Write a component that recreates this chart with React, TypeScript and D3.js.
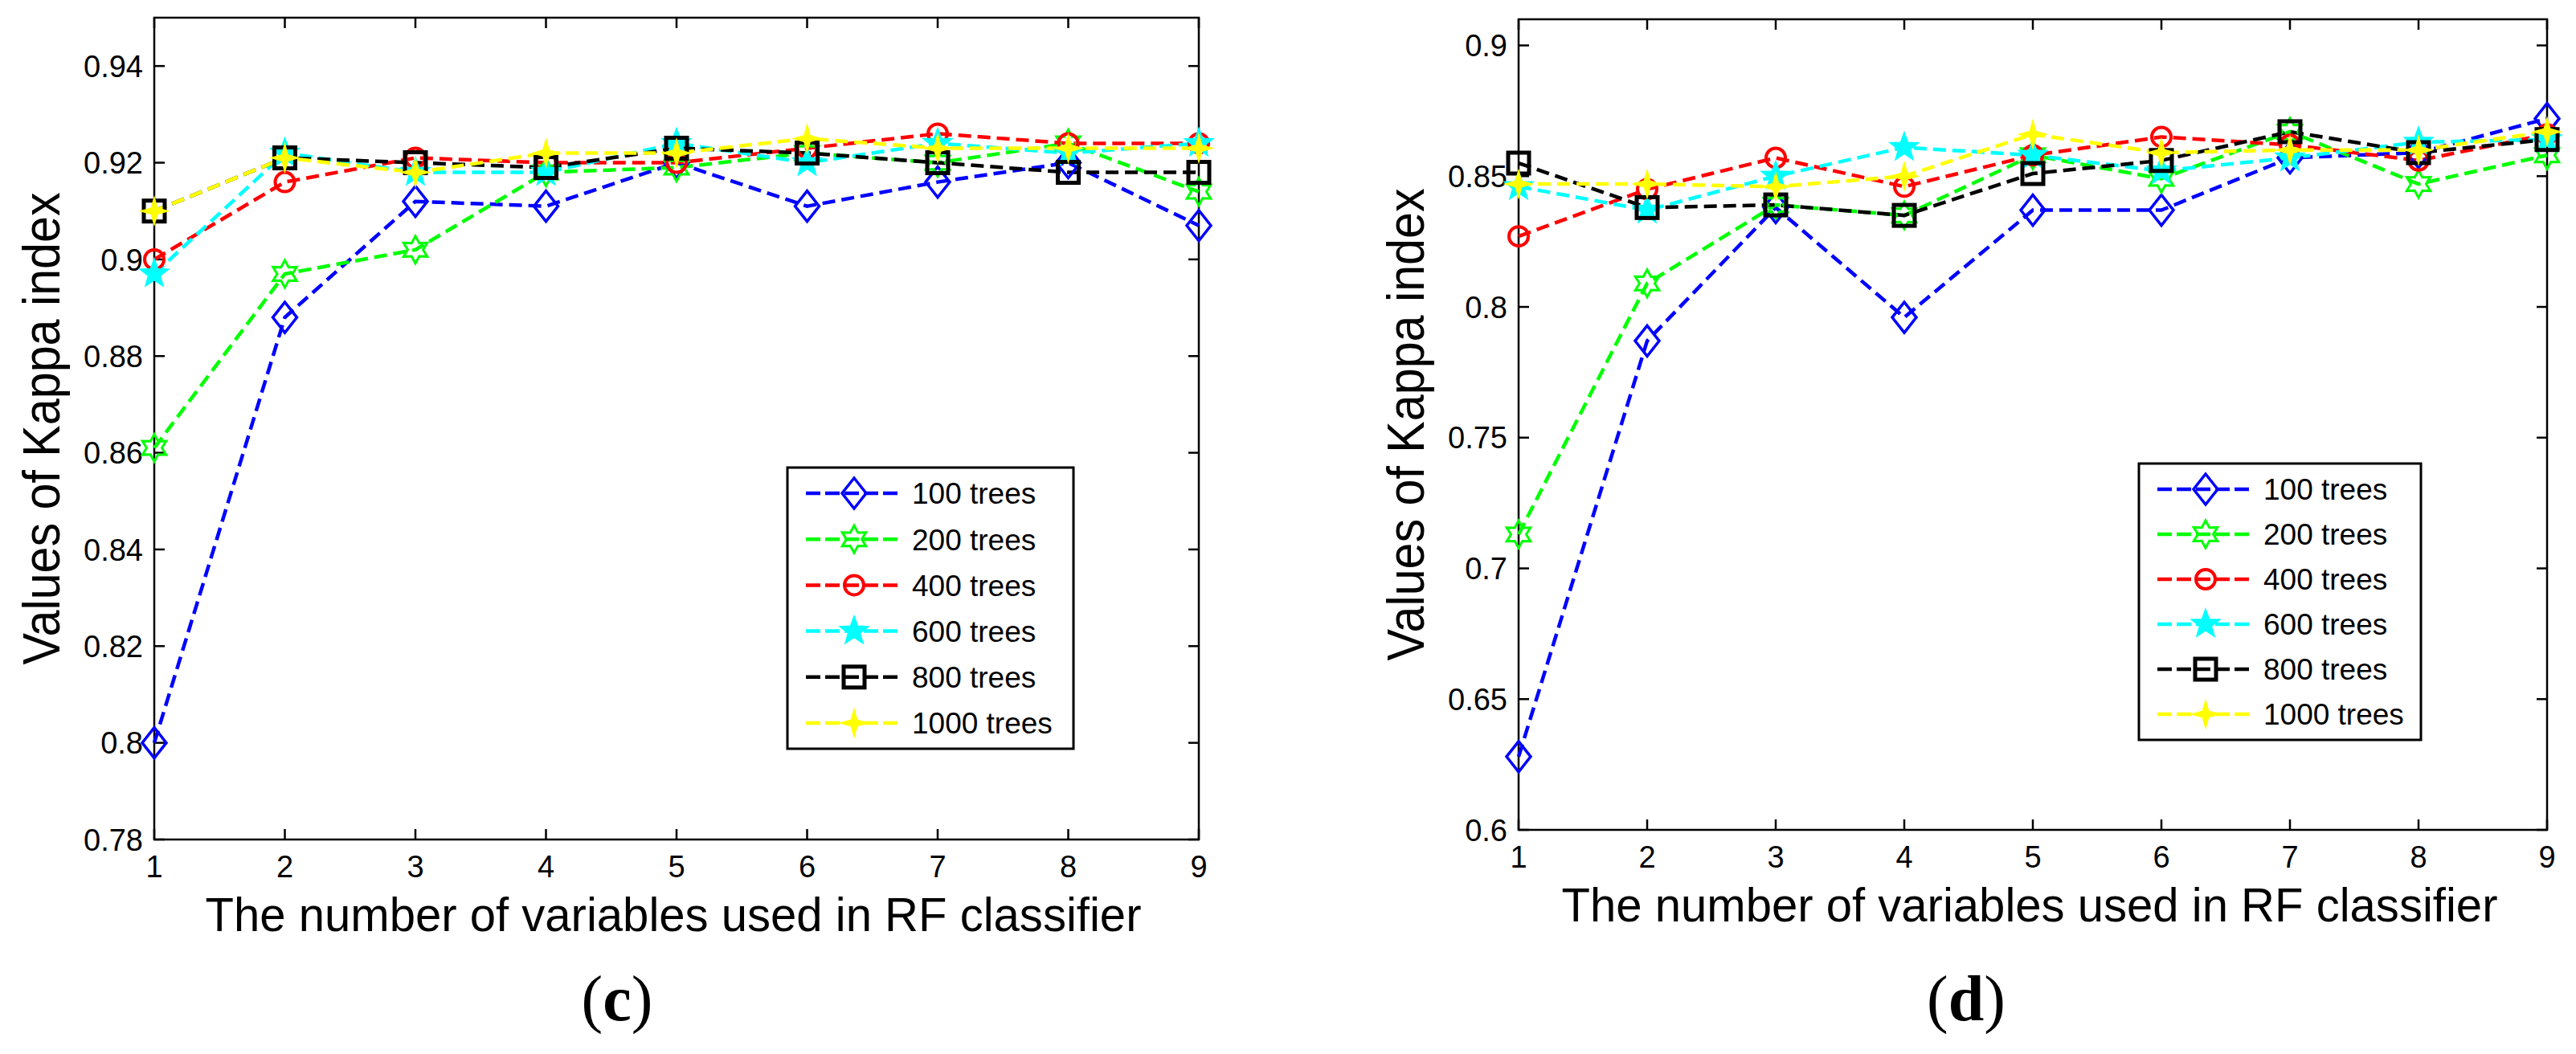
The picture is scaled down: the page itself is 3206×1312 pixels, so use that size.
import React from 'react';
import * as d3 from 'd3';

// number of variables used in the RF classifier (x axis)
const variableCounts = [1, 2, 3, 4, 5, 6, 7, 8, 9];

const treeLabels = ['100 trees', '200 trees', '400 trees', '600 trees', '800 trees', '1000 trees'];
const lineColors = ['#0000ff', '#00ff00', '#ff0000', '#00ffff', '#000000', '#ffff00'];
const markerKinds = ['diamond', 'hexagram', 'circle', 'pentagram', 'square', 'star4'];

// panel (c) kappa values
const kappaC100 = [0.8, 0.888, 0.912, 0.911, 0.92, 0.911, 0.916, 0.92, 0.907];
const kappaC200 = [0.861, 0.897, 0.902, 0.918, 0.919, 0.922, 0.92, 0.924, 0.914];
const kappaC400 = [0.9, 0.916, 0.921, 0.92, 0.92, 0.923, 0.926, 0.924, 0.924];
const kappaC600 = [0.897, 0.922, 0.918, 0.918, 0.924, 0.92, 0.924, 0.922, 0.924];
const kappaC800 = [0.91, 0.921, 0.92, 0.919, 0.923, 0.922, 0.92, 0.918, 0.918];
const kappaC1000 = [0.91, 0.921, 0.918, 0.922, 0.922, 0.925, 0.923, 0.923, 0.923];

// panel (d) kappa values
const kappaD100 = [0.628, 0.787, 0.838, 0.796, 0.837, 0.837, 0.857, 0.859, 0.872];
const kappaD200 = [0.713, 0.809, 0.839, 0.835, 0.858, 0.849, 0.867, 0.847, 0.858];
const kappaD400 = [0.827, 0.845, 0.857, 0.846, 0.858, 0.865, 0.862, 0.856, 0.866];
const kappaD600 = [0.846, 0.837, 0.85, 0.861, 0.858, 0.852, 0.857, 0.863, 0.864];
const kappaD800 = [0.855, 0.838, 0.839, 0.835, 0.851, 0.856, 0.867, 0.859, 0.864];
const kappaD1000 = [0.847, 0.847, 0.846, 0.85, 0.866, 0.859, 0.86, 0.86, 0.867];

const yTicksC = [0.78, 0.8, 0.82, 0.84, 0.86, 0.88, 0.9, 0.92, 0.94];
const yTicksD = [0.6, 0.65, 0.7, 0.75, 0.8, 0.85, 0.9];

const SANS = 'Liberation Sans, Arial, Helvetica, sans-serif';
const SERIF = 'Liberation Serif, Times New Roman, serif';

// marker shapes centred on 0,0
function starPath(points: number, outer: number, inner: number, start = -Math.PI / 2) {
  const pts: [number, number][] = [];
  for (let i = 0; i < points * 2; i++) {
    const r = i % 2 === 0 ? outer : inner;
    const a = start + (i * Math.PI) / points;
    pts.push([r * Math.cos(a), r * Math.sin(a)]);
  }
  return 'M' + pts.map(p => p[0].toFixed(2) + ',' + p[1].toFixed(2)).join('L') + 'Z';
}

const Marker = ({ kind, color, x, y }: { kind: string; color: string; x: number; y: number }) => {
  const t = `translate(${x},${y})`;
  if (kind === 'diamond')
    return <path transform={t} d="M0,-19L15,0L0,19L-15,0Z" fill="none" stroke={color} strokeWidth={3.5} />;
  if (kind === 'hexagram')
    return <path transform={t} d={starPath(6, 17, 9.5)} fill="none" stroke={color} strokeWidth={3} />;
  if (kind === 'circle')
    return <circle transform={t} r={12} fill="none" stroke={color} strokeWidth={4} />;
  if (kind === 'pentagram')
    return <path transform={t} d={starPath(5, 18, 7.5)} fill={color} stroke={color} strokeWidth={2} />;
  if (kind === 'square')
    return <rect transform={t} x={-13} y={-13} width={26} height={26} fill="none" stroke={color} strokeWidth={5} />;
  return <path transform={t} d={starPath(4, 16, 5)} fill={color} stroke={color} strokeWidth={2} />;
};

type PanelProps = {
  left: number;
  right: number;
  top: number;
  bottom: number;
  yDomain: [number, number];
  yTicks: number[];
  series: number[][];
  legend: { x: number; y: number; w: number; h: number };
  caption: string;
  captionX: number;
};

const Panel = (p: PanelProps) => {
  const x = d3.scaleLinear().domain([1, 9]).range([p.left, p.right]);
  const y = d3.scaleLinear().domain(p.yDomain).range([p.bottom, p.top]);
  const line = d3
    .line<number>()
    .x((_, i) => x(variableCounts[i]))
    .y(d => y(d));
  const tickLen = 13;
  const fmt = (v: number) => String(+v.toFixed(2));
  const rowGap = (p.legend.h - 64) / 5;

  return (
    <g>
      {/* frame */}
      <rect x={p.left} y={p.top} width={p.right - p.left} height={p.bottom - p.top} fill="none" stroke="#000" strokeWidth={2.5} />

      {/* x ticks, bottom and top, inward */}
      {variableCounts.map(v => (
        <g key={'xt' + v}>
          <line x1={x(v)} x2={x(v)} y1={p.bottom} y2={p.bottom - tickLen} stroke="#000" strokeWidth={2.5} />
          <line x1={x(v)} x2={x(v)} y1={p.top} y2={p.top + tickLen} stroke="#000" strokeWidth={2.5} />
          <text x={x(v)} y={p.bottom + 47} textAnchor="middle" fontFamily={SANS} fontSize={38}>
            {v}
          </text>
        </g>
      ))}

      {/* y ticks, left and right, inward */}
      {p.yTicks.map(v => (
        <g key={'yt' + v}>
          <line x1={p.left} x2={p.left + tickLen} y1={y(v)} y2={y(v)} stroke="#000" strokeWidth={2.5} />
          <line x1={p.right} x2={p.right - tickLen} y1={y(v)} y2={y(v)} stroke="#000" strokeWidth={2.5} />
          <text x={p.left - 14} y={y(v)} dy="0.36em" textAnchor="end" fontFamily={SANS} fontSize={38}>
            {fmt(v)}
          </text>
        </g>
      ))}

      {/* series lines */}
      {p.series.map((s, i) => (
        <path
          key={'ln' + i}
          d={line(s) || ''}
          fill="none"
          stroke={lineColors[i]}
          strokeWidth={4.5}
          strokeDasharray="16,8"
        />
      ))}
      {/* series markers */}
      {p.series.map((s, i) => (
        <g key={'mk' + i}>
          {s.map((v, j) => (
            <Marker key={j} kind={markerKinds[i]} color={lineColors[i]} x={x(variableCounts[j])} y={y(v)} />
          ))}
        </g>
      ))}

      {/* axis titles */}
      <text
        x={(p.left + p.right) / 2 - 4}
        y={p.bottom + 114}
        textAnchor="middle"
        fontFamily={SANS}
        fontSize={60}
        textLength={1165}
        lengthAdjust="spacingAndGlyphs"
      >
        The number of variables used in RF classifier
      </text>
      <text
        transform={`translate(${p.left - 118},${(p.top + p.bottom) / 2}) rotate(-90)`}
        textAnchor="middle"
        fontFamily={SANS}
        fontSize={64}
        textLength={588}
        lengthAdjust="spacingAndGlyphs"
      >
        Values of Kappa index
      </text>

      {/* legend */}
      <rect x={p.legend.x} y={p.legend.y} width={p.legend.w} height={p.legend.h} fill="#fff" stroke="#000" strokeWidth={3} />
      {treeLabels.map((lab, i) => {
        const ry = p.legend.y + 32 + i * rowGap;
        return (
          <g key={'lg' + i}>
            <line
              x1={p.legend.x + 23}
              x2={p.legend.x + 137}
              y1={ry}
              y2={ry}
              stroke={lineColors[i]}
              strokeWidth={4.5}
              strokeDasharray="18,6"
            />
            <Marker kind={markerKinds[i]} color={lineColors[i]} x={p.legend.x + 83} y={ry} />
            <text x={p.legend.x + 155} y={ry} dy="0.36em" fontFamily={SANS} fontSize={37}>
              {lab}
            </text>
          </g>
        );
      })}

      {/* panel caption */}
      <text x={p.captionX} y={1270} textAnchor="middle" fontFamily={SERIF} fontSize={80}>
        (<tspan fontWeight="bold">{p.caption}</tspan>)
      </text>
    </g>
  );
};

export default function App() {
  return (
    <svg
      width={3206}
      height={1312}
      viewBox="0 0 3206 1312"
      style={{ position: 'absolute', left: 0, top: 0, background: '#fff' }}
    >
      <rect width={3206} height={1312} fill="#fff" />
      <Panel
        left={192}
        right={1492}
        top={22}
        bottom={1045}
        yDomain={[0.78, 0.95]}
        yTicks={yTicksC}
        series={[kappaC100, kappaC200, kappaC400, kappaC600, kappaC800, kappaC1000]}
        legend={{ x: 980, y: 582, w: 356, h: 350 }}
        caption="c"
        captionX={768}
      />
      <Panel
        left={1890}
        right={3170}
        top={24}
        bottom={1033}
        yDomain={[0.6, 0.91]}
        yTicks={yTicksD}
        series={[kappaD100, kappaD200, kappaD400, kappaD600, kappaD800, kappaD1000]}
        legend={{ x: 2662, y: 577, w: 351, h: 344 }}
        caption="d"
        captionX={2447}
      />
    </svg>
  );
}
